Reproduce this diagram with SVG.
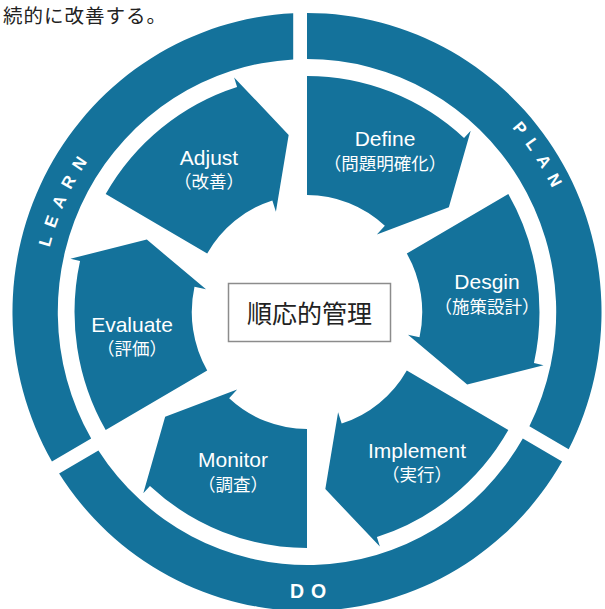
<svg xmlns="http://www.w3.org/2000/svg" width="605" height="609" viewBox="0 0 605 609">
<defs>
<style>
.blue{fill:#14729b}
.lbl{font-family:"Liberation Sans","Noto Sans CJK JP",sans-serif;fill:#fff;text-anchor:middle}
.en{font-size:21px}
.jp{font-size:17.5px;font-family:"Noto Sans CJK JP",sans-serif}
.ring{font-family:"Liberation Sans",Arial,sans-serif;font-weight:bold;font-size:17px;fill:#fff;letter-spacing:9px;text-anchor:middle}
</style>
<path id="seg" d="M 299,0 A 299 299 0 0 1 -137.21,265.66 L -114.18,225.77 A 253 253 0 0 0 253,0 Z"/>
<path id="arrow" d="M 236,0 A 236 236 0 0 1 174.00,159.44 L 181.37,166.19 L 104.63,144.01 L 77.41,70.94 L 86.26,79.04 A 117 117 0 0 0 117,0 Z"/>
<path id="pPlan" d="M 76.63,-267.23 A 278 278 0 0 1 276.48,29.06"/>
<path id="pLearn" d="M -258.58,74.15 A 269 269 0 0 1 -117.92,-241.77"/>
</defs>
<rect width="605" height="609" fill="#fff"/>
<text x="3" y="23" font-family="'Noto Sans CJK JP',sans-serif" font-size="19.5" letter-spacing="1" fill="#222">続的に改善する。</text>

<g id="ring-plan" transform="translate(307,312) scale(0.985,1)">
<use href="#seg" class="blue" transform="rotate(-90)"/>
<text class="ring"><textPath href="#pPlan" startOffset="198.6">PLAN</textPath></text>
</g>
<g id="ring-do">
<use href="#seg" class="blue" transform="translate(307,312) scale(0.985,1) rotate(30)"/>
<text x="290" y="598" font-family="'Liberation Sans',Arial,sans-serif" font-weight="bold" font-size="19.5" letter-spacing="7" fill="#fff">DO</text>
</g>
<g id="ring-learn" transform="translate(307,312) scale(0.985,1)">
<use href="#seg" class="blue" transform="rotate(150)"/>
<text class="ring"><textPath href="#pLearn" startOffset="192">LEARN</textPath></text>
</g>

<g id="define">
<use href="#arrow" class="blue" transform="translate(307,312) scale(0.985,1) rotate(270)"/>
<text class="lbl en" x="385" y="146">Define</text>
<text class="lbl jp" x="385" y="170">（問題明確化）</text>
</g>
<g id="design">
<use href="#arrow" class="blue" transform="translate(307,312) scale(0.985,1) rotate(330)"/>
<text class="lbl en" x="487" y="289">Desgin</text>
<text class="lbl jp" x="487" y="313">（施策設計）</text>
</g>
<g id="implement">
<use href="#arrow" class="blue" transform="translate(307,312) scale(0.985,1) rotate(30)"/>
<text class="lbl en" x="417" y="458">Implement</text>
<text class="lbl jp" x="417" y="481">（実行）</text>
</g>
<g id="monitor">
<use href="#arrow" class="blue" transform="translate(307,312) scale(0.985,1) rotate(90)"/>
<text class="lbl en" x="233" y="467">Monitor</text>
<text class="lbl jp" x="233" y="491">（調査）</text>
</g>
<g id="evaluate">
<use href="#arrow" class="blue" transform="translate(307,312) scale(0.985,1) rotate(150)"/>
<text class="lbl en" x="132" y="332">Evaluate</text>
<text class="lbl jp" x="132" y="355">（評価）</text>
</g>
<g id="adjust">
<use href="#arrow" class="blue" transform="translate(307,312) scale(0.985,1) rotate(210)"/>
<text class="lbl en" x="209" y="165">Adjust</text>
<text class="lbl jp" x="209" y="188">（改善）</text>
</g>

<g id="center">
<rect x="228.5" y="283.5" width="162" height="58" fill="#fff" stroke="#8c8c8c" stroke-width="1.5"/>
<text x="309.5" y="323" font-family="'Noto Sans CJK JP',sans-serif" font-size="25" fill="#222" text-anchor="middle">順応的管理</text>
</g>
</svg>
